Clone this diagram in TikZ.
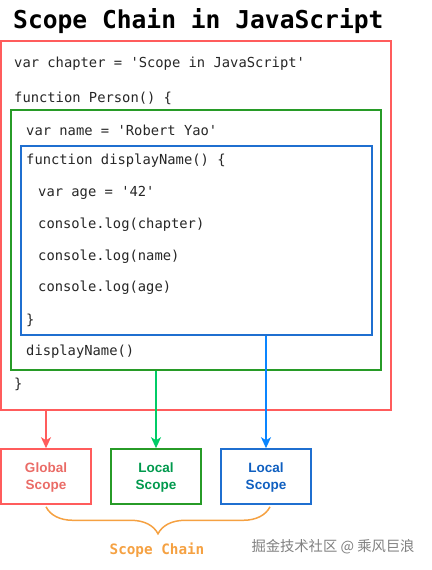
\documentclass[tikz,border=0pt]{standalone}
\usepackage{fontspec}
\setmainfont{Liberation Sans}
\setmonofont{DejaVu Sans Mono}
\newfontfamily\cjk{Noto Sans CJK SC}
\usetikzlibrary{arrows.meta,positioning,decorations.pathreplacing}
\definecolor{globalred}{HTML}{FF5C5C}
\definecolor{globaltext}{HTML}{EA6B66}
\definecolor{funcgreen}{HTML}{279B27}
\definecolor{greenarrow}{HTML}{00CC66}
\definecolor{greentext}{HTML}{00994D}
\definecolor{innerblue}{HTML}{1F6FD0}
\definecolor{bluearrow}{HTML}{0A85FF}
\definecolor{bluetext}{HTML}{0F5FC0}
\definecolor{chainorange}{HTML}{F5A142}

\begin{document}
\begin{tikzpicture}[x=1pt, y=-1pt, >={Stealth[length=11pt,width=10pt,inset=3pt]},
    code/.style={anchor=west, inner sep=0pt, text=black!85,
                 font=\ttfamily\fontsize{13.8}{16}\selectfont},
    scopebox/.style={draw=#1, line width=1.6pt, inner sep=0pt},
    scopelabel/.style={minimum width=90pt, minimum height=55pt, align=center,
                 font=\bfseries\fontsize{13.5}{17}\selectfont}]
      \useasboundingbox (0,0) rectangle (431,570);

      \node [anchor=west, inner sep=0pt, font=\ttfamily\bfseries\fontsize{24.6}{28}\selectfont]
            (title) at (13,21) {Scope Chain in JavaScript};

      % nested scopes
      \node [scopebox=globalred, minimum width=390pt, minimum height=369pt] (outer) at (196,225.5) {};
      \node [scopebox=funcgreen, minimum width=370pt, minimum height=260pt] (middle) at (196,240) {};
      \node [scopebox=innerblue, minimum width=351pt, minimum height=189pt] (inner) at (196.5,240.5) {};

      \node [code] (chapter)  at (14,64)  {var chapter = 'Scope in JavaScript'};
      \node [code] (person)   at (14,98)  {function Person() \{};
      \node [code] (name)     at (26,130) {var name = 'Robert Yao'};
      \node [code] (display)  at (26,161) {function displayName() \{};
      \node [code] (age)      at (38,193) {var age = '42'};
      \node [code] (logchap)  at (38,225) {console.log(chapter)};
      \node [code] (logname)  at (38,257) {console.log(name)};
      \node [code] (logage)   at (38,288) {console.log(age)};
      \node [code] (endinner) at (26,320) {\}};
      \node [code] (call)     at (26,352) {displayName()};
      \node [code] (endouter) at (14,384) {\}};

      % scope boxes
      \node [scopebox=globalred, scopelabel, text=globaltext] (global) at (46,476.5)  {\strut Global\\Scope};
      \node [scopebox=funcgreen, scopelabel, text=greentext]  (localg) at (156,476.5) {\strut Local\\Scope};
      \node [scopebox=innerblue, scopelabel, text=bluetext]   (localb) at (266,476.5) {\strut Local\\Scope};

      \draw [->,line width=1.5pt,globalred]  (global.north |- outer.south)  to (global.north);
      \draw [->,line width=1.5pt,greenarrow] (localg.north |- middle.south) to (localg.north);
      \draw [->,line width=1.5pt,bluearrow]  (localb.north |- inner.south)  to (localb.north);

      \draw [line width=1.5pt,chainorange,decorate,decoration={brace,mirror,amplitude=27pt}]
            ([yshift=-2pt]global.south) -- ([xshift=4pt,yshift=-2pt]localb.south);
      \node [text=chainorange, font=\ttfamily\bfseries\fontsize{14.3}{16}\selectfont] (chain) at (157,550) {Scope Chain};

      \node [text=black!50, font=\cjk\fontsize{14.3}{16}\selectfont] (mark) at (333,547) {掘金技术社区 @ 乘风巨浪};
    \end{tikzpicture}
\end{document}
